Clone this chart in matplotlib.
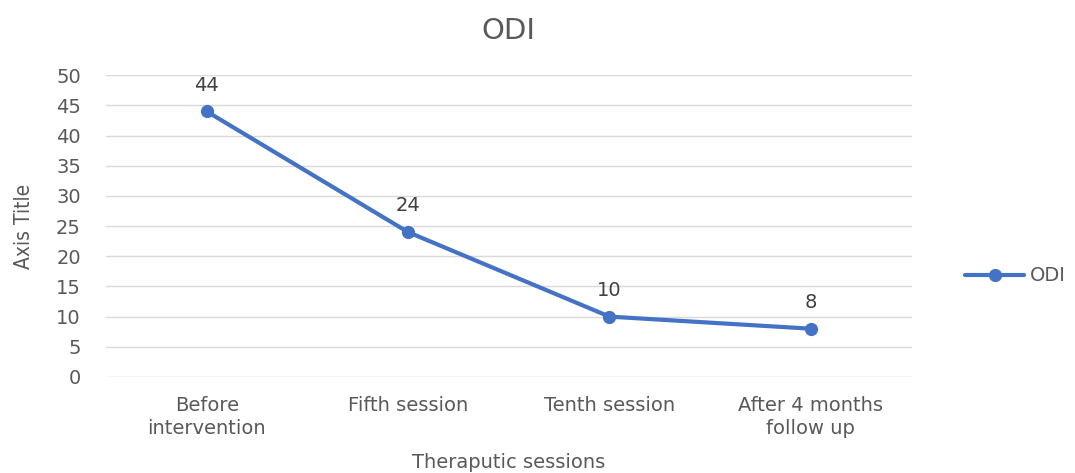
import matplotlib.pyplot as plt

# data
categories = ['Before\nintervention', 'Fifth session', 'Tenth session', 'After 4 months\nfollow up']
odi = [44, 24, 10, 8]
yticks = [0, 5, 10, 15, 20, 25, 30, 35, 40, 45, 50]

plt.rcParams['font.family'] = ['DejaVu Sans']
grey = '#595959'
blue = '#4472C4'

fig = plt.figure(figsize=(10.75, 4.73), dpi=100)
ax = fig.add_axes([0.0986, 0.203, 0.7494, 0.638])

x = list(range(len(categories)))
ax.plot(x, odi, color=blue, linewidth=3, marker='o', markersize=8.5, label='ODI',
        solid_capstyle='round', zorder=3)

# data labels
for xi, v in zip(x, odi):
    ax.annotate(str(v), (xi, v), xytext=(0, 12), textcoords='offset points',
                ha='center', va='bottom', fontsize=14, color='#404040')

ax.set_xlim(-0.5, len(categories) - 0.5)
ax.set_ylim(0, 50)
ax.set_yticks(yticks)
ax.set_xticks(x)
ax.set_xticklabels(categories, fontsize=14, color=grey, linespacing=1.25)
ax.tick_params(axis='y', labelsize=14, labelcolor=grey, length=0, pad=18)
ax.tick_params(axis='x', length=0, pad=14)
ax.grid(axis='y', color='#D9D9D9', linewidth=1)
ax.set_axisbelow(True)
for s in ax.spines.values():
    s.set_visible(False)

ax.set_title('ODI', fontsize=21, color=grey, pad=26)
ax.set_xlabel('Theraputic sessions', fontsize=14, color=grey, labelpad=10.5)
ax.set_ylabel('Axis Title', fontsize=15, color=grey, family='DejaVu Sans', fontstretch='condensed',
              labelpad=16)

leg = ax.legend(loc='center left', bbox_to_anchor=(1.045, 0.335), frameon=False,
                fontsize=14, handlelength=3.0, handletextpad=0.3)
for t in leg.get_texts():
    t.set_color(grey)

fig.savefig('out.png', dpi=100)
